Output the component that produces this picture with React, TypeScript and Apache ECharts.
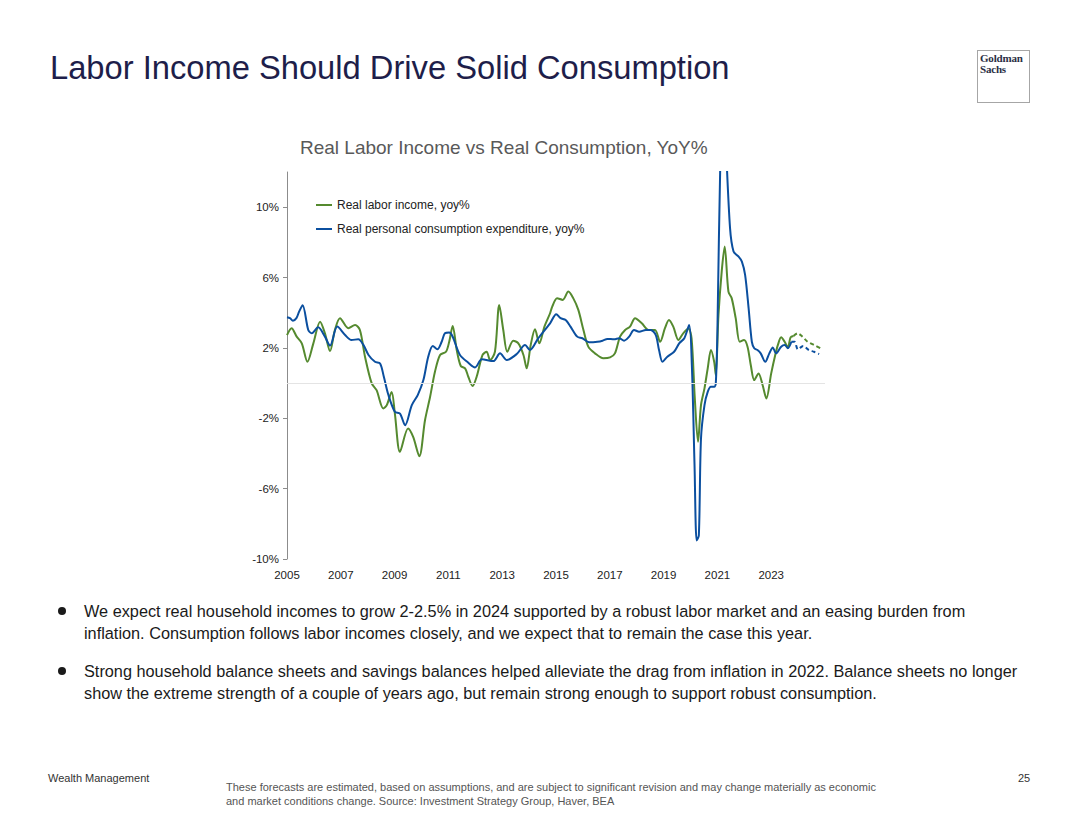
import React, { useEffect, useRef } from 'react';
import * as echarts from 'echarts';

// Real labor income, yoy% (decimal years)
const laborYears = [
  2005.0, 2005.17, 2005.36, 2005.55, 2005.76, 2005.98, 2006.23, 2006.41, 2006.6, 2006.78,
  2006.97, 2007.28, 2007.53, 2007.71, 2007.9, 2008.15, 2008.33, 2008.58, 2008.71, 2008.89,
  2009.01, 2009.2, 2009.5, 2009.69, 2009.92, 2010.13, 2010.32, 2010.5, 2010.69, 2010.91,
  2011.03, 2011.16, 2011.31, 2011.46, 2011.62, 2011.74, 2011.9, 2012.05, 2012.27, 2012.42,
  2012.55, 2012.73, 2012.89, 2013.04, 2013.19, 2013.41, 2013.6, 2013.79, 2013.91, 2014.06,
  2014.22, 2014.38, 2014.57, 2014.78, 2014.86, 2015.04, 2015.25, 2015.46, 2015.64, 2015.83,
  2016.02, 2016.2, 2016.45, 2016.76, 2017.01, 2017.19, 2017.38, 2017.57, 2017.75, 2017.94,
  2018.19, 2018.44, 2018.68, 2018.87, 2019.05, 2019.2, 2019.36, 2019.55, 2019.73, 2019.92,
  2020.04, 2020.16, 2020.28, 2020.39, 2020.52, 2020.64, 2020.76, 2020.88, 2020.94, 2021.04,
  2021.16, 2021.27, 2021.41, 2021.53, 2021.68, 2021.83, 2021.99, 2022.12, 2022.24, 2022.37,
  2022.53, 2022.68, 2022.82, 2023.0, 2023.15, 2023.25, 2023.37, 2023.5, 2023.62, 2023.72,
  2023.83,
];
const laborValues = [
  2.73, 3.12, 2.64, 2.26, 1.21, 2.26, 3.49, 2.83, 1.82, 3.02,
  3.69, 3.12, 3.3, 3.02, 1.5, -0.02, -0.4, -1.44, -1.25, -0.5,
  -1.73, -3.91, -2.58, -3.06, -4.16, -2.11, -0.78, 0.64, 1.6, 1.78,
  2.35, 3.25, 1.88, 0.97, 0.84, 0.36, -0.17, 0.36, 1.6, 1.78,
  1.31, 1.78, 4.44, 3.02, 1.78, 2.41, 2.26, 1.6, 0.84, 2.17,
  3.06, 2.26, 3.21, 3.97, 4.35, 4.83, 4.73, 5.2, 4.83, 4.16,
  3.02, 2.07, 1.69, 1.41, 1.46, 1.69, 2.64, 3.02, 3.21, 3.69,
  3.4, 3.02, 3.02, 2.35, 3.12, 3.59, 3.21, 2.45, 2.83, 3.1,
  2.55, -0.87, -3.34, -1.25, -0.3, 0.84, 1.88, 1.21, 0.46, 3.87,
  6.34, 7.77, 5.2, 4.83, 3.69, 2.35, 2.45, 2.07, 1.03, 0.17,
  0.55, -0.11, -0.87, 0.55, 1.6, 2.17, 2.6, 2.35, 2.03, 2.6,
  2.68,
];
const laborFcYears = [2023.83, 2023.98, 2024.16, 2024.35, 2024.59, 2024.83];
const laborFcValues = [2.68, 2.83, 2.64, 2.35, 2.17, 1.98];

// Real personal consumption expenditure, yoy%
const pceYears = [
  2005.0, 2005.11, 2005.22, 2005.35, 2005.45, 2005.58, 2005.79, 2005.92, 2006.16, 2006.41,
  2006.6, 2006.87, 2007.16, 2007.4, 2007.65, 2007.84, 2008.03, 2008.27, 2008.46, 2008.6,
  2008.77, 2009.01, 2009.2, 2009.39, 2009.64, 2009.86, 2010.07, 2010.25, 2010.42, 2010.59,
  2010.75, 2010.87, 2011.03, 2011.43, 2011.74, 2011.99, 2012.24, 2012.67, 2012.92, 2013.17,
  2013.54, 2013.85, 2014.03, 2014.34, 2014.78, 2015.01, 2015.17, 2015.36, 2015.54, 2015.79,
  2015.98, 2016.23, 2016.54, 2016.73, 2016.91, 2017.16, 2017.35, 2017.53, 2017.72, 2017.9,
  2018.09, 2018.34, 2018.52, 2018.71, 2018.83, 2018.96, 2019.14, 2019.39, 2019.58, 2019.77,
  2019.95, 2020.05, 2020.15, 2020.23, 2020.31, 2020.39, 2020.52, 2020.64, 2020.76, 2020.88,
  2020.94, 2021.0, 2021.12, 2021.22, 2021.3, 2021.47, 2021.6, 2021.78, 2021.91, 2022.03,
  2022.16, 2022.28, 2022.37, 2022.49, 2022.61, 2022.78, 2022.93, 2023.06, 2023.18, 2023.37,
  2023.5, 2023.62, 2023.75,
];
const pceValues = [
  3.74, 3.69, 3.55, 3.69, 4.06, 4.43, 3.02, 2.83, 3.17, 2.64,
  2.13, 3.21, 2.73, 2.45, 2.49, 2.17, 1.6, 1.21, 1.12, 0.36,
  -0.68, -1.63, -1.73, -2.39, -1.25, -0.68, 0.17, 1.5, 2.11, 1.92,
  2.35, 2.83, 2.87, 1.6, 1.16, 0.89, 1.35, 1.25, 1.69, 1.31,
  1.65, 2.17, 1.88, 2.55, 3.4, 3.91, 3.69, 3.59, 3.21, 2.64,
  2.55, 2.32, 2.35, 2.41, 2.51, 2.49, 2.55, 2.41, 2.64, 3.02,
  2.92, 3.02, 3.02, 2.73, 1.88, 1.21, 1.5, 1.78, 2.26, 2.55,
  3.3, 1.03, -4.67, -8.95, -8.66, -3.15, -1.25, -0.5, -0.21, -0.21,
  -0.02, 2.92, 13.5, 16.0, 14.0, 8.81, 7.48, 7.2, 6.91, 6.15,
  4.26, 2.35, 1.98, 1.88, 1.69, 1.21, 1.69, 2.03, 1.69, 2.07,
  2.17, 1.98, 2.35,
];
const pceFcYears = [2023.75, 2023.87, 2023.99, 2024.19, 2024.4, 2024.59, 2024.78];
const pceFcValues = [2.35, 2.35, 1.92, 2.11, 1.88, 1.78, 1.65];

const yTicks = [-10, -6, -2, 2, 6, 10];
const xTicks = [2005, 2007, 2009, 2011, 2013, 2015, 2017, 2019, 2021, 2023];

const GREEN = '#558a2f';
const BLUE = '#0b4f9f';
const FONT = '"Liberation Sans", Arial, Helvetica, sans-serif';

const pairs = (xs: number[], ys: number[]) => xs.map((x, i) => [x, ys[i]]);

const Chart: React.FC = () => {
  const chartRef = useRef<HTMLDivElement>(null);

  useEffect(() => {
    if (!chartRef.current) return;
    const chart = echarts.init(chartRef.current, null, { renderer: 'svg' });

    const option = {
      animation: false,
      textStyle: { fontFamily: FONT },
      title: {
        text: 'Real Labor Income vs Real Consumption, YoY%',
        left: 70,
        top: 18,
        padding: 0,
        textStyle: { fontFamily: FONT, fontSize: 19, fontWeight: 'normal', color: '#595959' },
      },
      legend: {
        data: ['Real labor income, yoy%', 'Real personal consumption expenditure, yoy%'],
        orient: 'vertical',
        left: 86,
        top: 78,
        padding: 0,
        icon: 'rect',
        itemWidth: 16,
        itemHeight: 2,
        itemGap: 10,
        textStyle: { fontFamily: FONT, fontSize: 12, color: '#222', lineHeight: 14 },
      },
      grid: { left: 57, right: 25, top: 52, bottom: 41 },
      xAxis: {
        type: 'value',
        min: 2005,
        max: 2025,
        interval: 2,
        axisLine: { show: false },
        axisTick: { show: false },
        splitLine: { show: false },
        axisLabel: {
          customValues: xTicks,
          formatter: (v: number) => String(v),
          fontSize: 11.5,
          color: '#222',
          margin: 10,
        },
      },
      yAxis: {
        type: 'value',
        min: -10,
        max: 12,
        interval: 4,
        axisLine: { show: true, lineStyle: { color: '#8c8c8c', width: 1 } },
        axisTick: { show: true, customValues: yTicks, length: 4, lineStyle: { color: '#8c8c8c' } },
        splitLine: { show: false },
        axisLabel: {
          customValues: yTicks,
          formatter: (v: number) => v + '%',
          fontSize: 11.5,
          color: '#222',
          margin: 8,
        },
      },
      series: [
        {
          name: 'Real labor income, yoy%',
          type: 'line',
          data: pairs(laborYears, laborValues),
          showSymbol: false,
          symbol: 'none',
          smooth: 0.3,
          lineStyle: { color: GREEN, width: 2 },
          itemStyle: { color: GREEN },
          markLine: {
            silent: true,
            symbol: 'none',
            label: { show: false },
            lineStyle: { color: '#e4e4e4', width: 1, type: 'solid' },
            data: [{ yAxis: 0 }],
          },
          z: 3,
        },
        {
          name: 'Real personal consumption expenditure, yoy%',
          type: 'line',
          data: pairs(pceYears, pceValues),
          showSymbol: false,
          symbol: 'none',
          smooth: 0.3,
          lineStyle: { color: BLUE, width: 2 },
          itemStyle: { color: BLUE },
          z: 4,
        },
        {
          name: 'Labor income forecast',
          type: 'line',
          data: pairs(laborFcYears, laborFcValues),
          showSymbol: false,
          symbol: 'none',
          smooth: 0.3,
          lineStyle: { color: GREEN, width: 2, type: [4, 3] },
          itemStyle: { color: GREEN },
        },
        {
          name: 'Consumption forecast',
          type: 'line',
          data: pairs(pceFcYears, pceFcValues),
          showSymbol: false,
          symbol: 'none',
          smooth: 0.3,
          lineStyle: { color: BLUE, width: 2, type: [4, 3] },
          itemStyle: { color: BLUE },
        },
      ],
    };

    chart.setOption(option);
    return () => chart.dispose();
  }, []);

  return (
    <div
      ref={chartRef}
      style={{ position: 'absolute', left: 230, top: 120, width: 620, height: 480 }}
    />
  );
};

const App: React.FC = () => {
  const bulletStyle: React.CSSProperties = {
    position: 'absolute',
    left: 84,
    width: 980,
    fontSize: 16.3,
    lineHeight: '22px',
    color: '#1a1a1a',
    whiteSpace: 'nowrap',
  };
  const dotStyle: React.CSSProperties = {
    position: 'absolute',
    left: -26,
    top: 7,
    width: 8,
    height: 8,
    borderRadius: '50%',
    background: '#1a1a1a',
  };

  return (
    <div
      style={{
        position: 'absolute',
        left: 0,
        top: 0,
        width: 1080,
        height: 835,
        background: '#fff',
        fontFamily: FONT,
        overflow: 'hidden',
      }}
    >
      <div
        style={{
          position: 'absolute',
          left: 50,
          top: 48,
          fontSize: 32.7,
          lineHeight: '40px',
          color: '#1e1e4a',
          whiteSpace: 'nowrap',
        }}
      >
        Labor Income Should Drive Solid Consumption
      </div>

      {/* logo box */}
      <div
        style={{
          position: 'absolute',
          left: 977,
          top: 50,
          width: 53,
          height: 53,
          border: '1px solid #a6a6a6',
          boxSizing: 'border-box',
        }}
      >
        <div
          style={{
            position: 'absolute',
            left: 2,
            top: 2,
            fontFamily: '"Liberation Serif", "DejaVu Serif", serif',
            fontWeight: 'bold',
            fontSize: 11,
            lineHeight: '11px',
            letterSpacing: -0.2,
            color: '#2b2f45',
          }}
        >
          Goldman
          <br />
          Sachs
        </div>
      </div>

      <Chart />

      <div style={{ ...bulletStyle, top: 600 }}>
        <span style={dotStyle} />
        We expect real household incomes to grow 2-2.5% in 2024 supported by a robust labor market and an easing burden from
        <br />
        inflation. Consumption follows labor incomes closely, and we expect that to remain the case this year.
      </div>
      <div style={{ ...bulletStyle, top: 660 }}>
        <span style={dotStyle} />
        Strong household balance sheets and savings balances helped alleviate the drag from inflation in 2022. Balance sheets no longer
        <br />
        show the extreme strength of a couple of years ago, but remain strong enough to support robust consumption.
      </div>

      <div style={{ position: 'absolute', left: 48, top: 772, fontSize: 11, color: '#333' }}>
        Wealth Management
      </div>
      <div
        style={{
          position: 'absolute',
          left: 226,
          top: 780,
          fontSize: 11,
          lineHeight: '14px',
          color: '#555',
          whiteSpace: 'nowrap',
        }}
      >
        These forecasts are estimated, based on assumptions, and are subject to significant revision and may change materially as economic
        <br />
        and market conditions change. Source: Investment Strategy Group, Haver, BEA
      </div>
      <div style={{ position: 'absolute', left: 1018, top: 772, fontSize: 11, color: '#333' }}>25</div>
    </div>
  );
};

export default App;
